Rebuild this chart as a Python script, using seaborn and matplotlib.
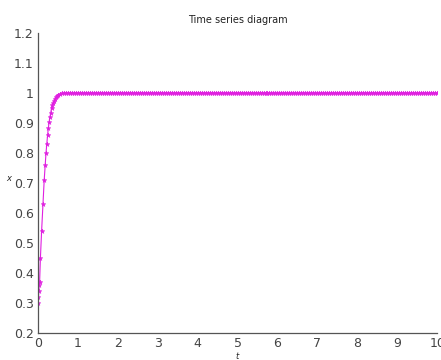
import numpy as np
import pandas as pd
import seaborn as sns
import matplotlib
matplotlib.use("Agg")
import matplotlib.pyplot as plt

# rising part
t_rise = [0, 0.01, 0.02, 0.03, 0.04, 0.06, 0.09, 0.125, 0.155, 0.18, 0.2, 0.22, 0.24,
          0.26, 0.28, 0.30, 0.32, 0.34, 0.36, 0.38, 0.40, 0.42, 0.45, 0.48, 0.51, 0.55, 0.6]
x_rise = [0.30, 0.32, 0.34, 0.36, 0.37, 0.45, 0.54, 0.63, 0.71, 0.76, 0.80, 0.83, 0.86,
          0.885, 0.905, 0.92, 0.935, 0.95, 0.96, 0.967, 0.975, 0.98, 0.986, 0.99, 0.994, 0.997, 0.999]
# flat part, sampled every 0.05
t_flat = np.round(np.arange(0.65, 10.001, 0.05), 2)
x_level = 1.0

df = pd.DataFrame({"t": list(t_rise) + list(t_flat),
                   "x": x_rise + [x_level] * len(t_flat)})

sns.set_style("white")
plt.rcParams['font.family'] = ['DejaVu Sans']

fig = plt.figure(figsize=(4.41, 3.6), dpi=100)
ax = fig.add_axes([0.0862, 0.075, 0.905, 0.833])
sns.lineplot(data=df, x="t", y="x", color="#e020e0", linewidth=0.8,
             marker="*", markersize=3.5, markeredgewidth=0.4, markeredgecolor="#e020e0", ax=ax)

ax.set_xlim(0, 10)
ax.set_ylim(0.2, 1.2)
ax.set_xticks(range(0, 11))
ax.set_yticks([0.2, 0.3, 0.4, 0.5, 0.6, 0.7, 0.8, 0.9, 1, 1.1, 1.2])
ax.set_yticklabels(["0.2", "0.3", "0.4", "0.5", "0.6", "0.7", "0.8", "0.9", "1", "1.1", "1.2"])
ax.tick_params(direction="in", length=4, width=0.8, colors="#444444", labelsize=9, pad=3)
for s in ["top", "right"]:
    ax.spines[s].set_visible(False)
for s in ["left", "bottom"]:
    ax.spines[s].set_color("#555555")
    ax.spines[s].set_linewidth(0.9)

ax.set_title("Time series diagram", fontsize=7, color="#222222", pad=7)
ax.set_xlabel("t", fontsize=6, style="italic", labelpad=1)
ax.set_ylabel("x", fontsize=6, style="italic", rotation=0, labelpad=4)

fig.savefig("out.png", dpi=100)
